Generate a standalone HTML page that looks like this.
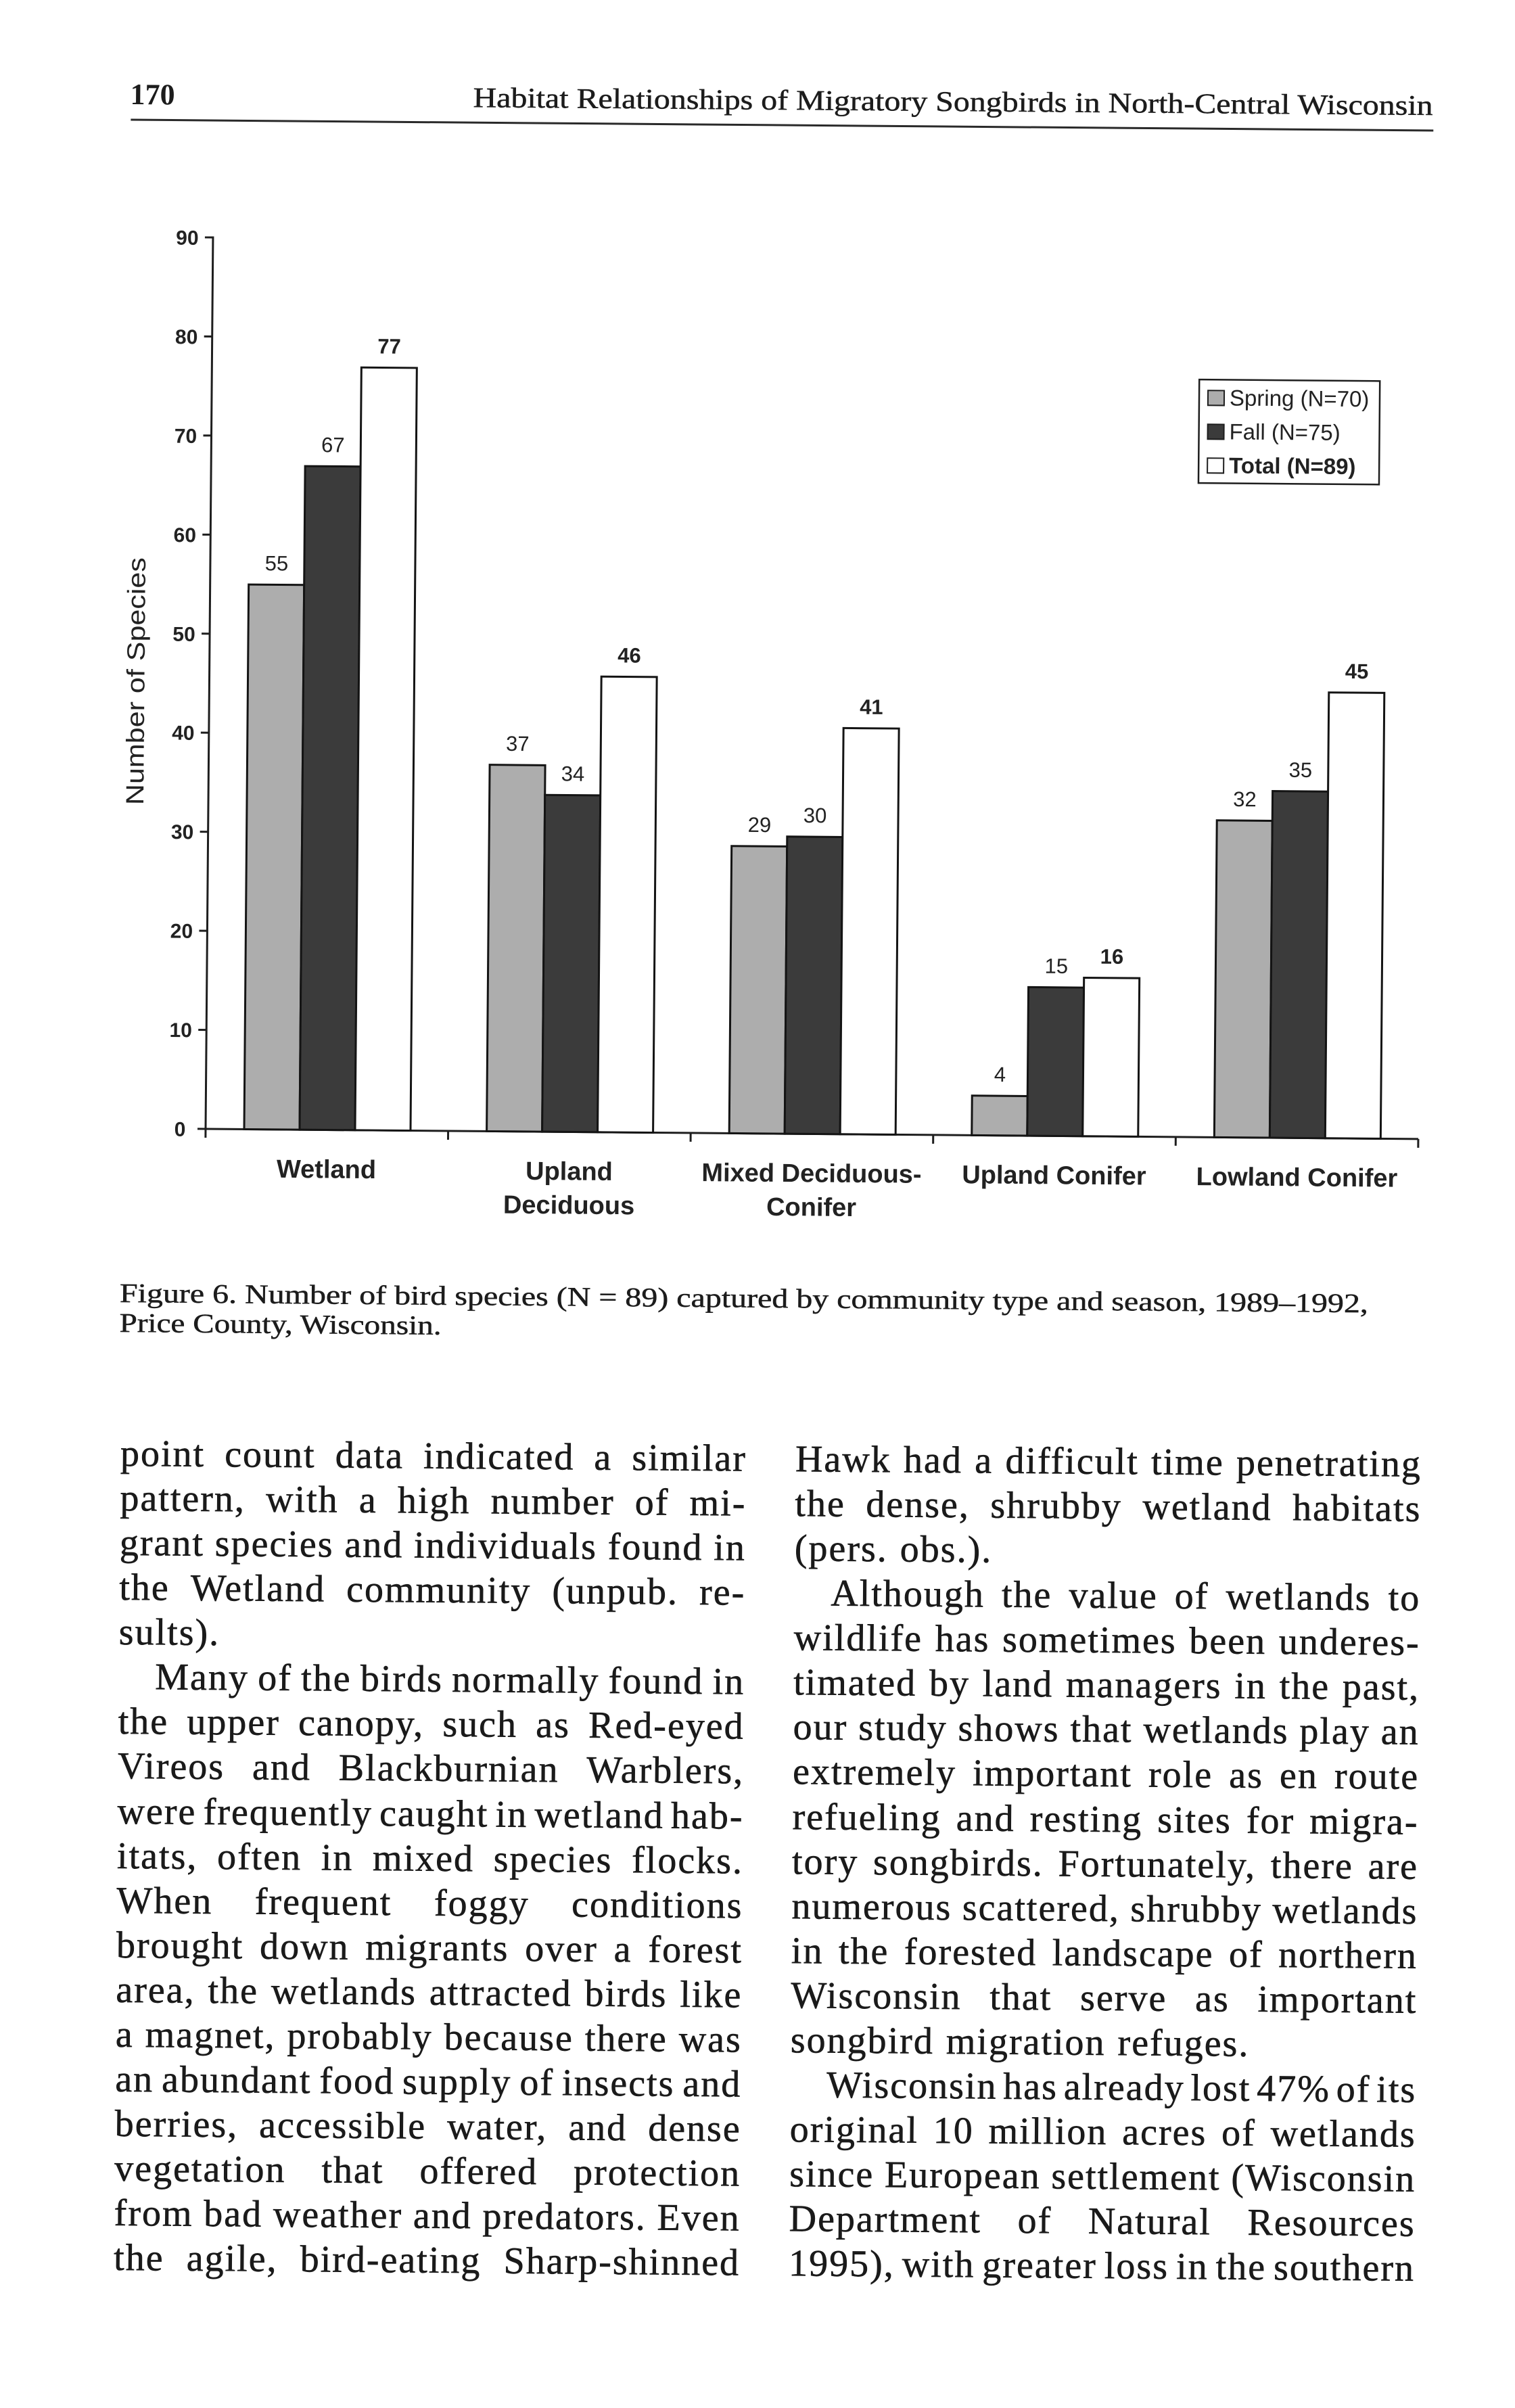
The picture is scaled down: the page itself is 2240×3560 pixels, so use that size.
<!DOCTYPE html>
<html>
<head>
<meta charset="utf-8">
<style>
  html,body{margin:0;padding:0;background:#fff;}
  #pg{position:relative;width:2240px;height:3560px;overflow:hidden;background:#fff;}
  #rot{position:absolute;left:0;top:0;width:2240px;height:3560px;transform:rotate(0.475deg);transform-origin:305px 1669px;}
  svg{position:absolute;left:0;top:0;}
  .ln{position:absolute;height:56px;line-height:56px;display:flex;justify-content:space-between;align-items:baseline;
      font-family:"Liberation Serif",serif;font-size:56px;letter-spacing:2px;color:#1a1a1a;white-space:nowrap;
      -webkit-text-stroke:0.6px #1a1a1a;}
  .ln.p{display:block;word-spacing:2px;}
  .L{left:182px;width:926px;}
  .Li{left:236px;width:872px;}
  .R{left:1180px;width:926px;}
  .Ri{left:1234px;width:872px;}
  .serif{stroke:#1c1c1c;stroke-width:0.5px;}
</style>
</head>
<body>
<div id="pg">
<div id="rot">
<svg width="2240" height="3560" viewBox="0 0 2240 3560" xmlns="http://www.w3.org/2000/svg">
  <!-- Header -->
  <text x="180" y="155" font-family="Liberation Serif, serif" font-weight="bold" font-size="44" fill="#1c1c1c">170</text>
  <text x="687" y="155" class="serif" font-family="Liberation Serif, serif" font-size="42" fill="#1c1c1c" textLength="1419" lengthAdjust="spacingAndGlyphs">Habitat Relationships of Migratory Songbirds in North-Central Wisconsin</text>
  <line x1="181" y1="178" x2="2107" y2="178" stroke="#2a2a2a" stroke-width="3"/>

  <!-- Y axis -->
  <g stroke="#1e1e1e" stroke-width="3" fill="none">
    <line x1="304" y1="349.5" x2="304" y2="1670.5"/>
    <line x1="292" y1="351" x2="304" y2="351"/>
    <line x1="292" y1="497.5" x2="304" y2="497.5"/>
    <line x1="292" y1="643.9" x2="304" y2="643.9"/>
    <line x1="292" y1="790.4" x2="304" y2="790.4"/>
    <line x1="292" y1="936.8" x2="304" y2="936.8"/>
    <line x1="292" y1="1083.2" x2="304" y2="1083.2"/>
    <line x1="292" y1="1229.7" x2="304" y2="1229.7"/>
    <line x1="292" y1="1376.1" x2="304" y2="1376.1"/>
    <line x1="292" y1="1522.6" x2="304" y2="1522.6"/>
    <line x1="292" y1="1669" x2="2097" y2="1669"/>
    <!-- x ticks -->
    <line x1="304" y1="1669" x2="304" y2="1682"/>
    <line x1="662.6" y1="1669" x2="662.6" y2="1682"/>
    <line x1="1021.2" y1="1669" x2="1021.2" y2="1682"/>
    <line x1="1379.8" y1="1669" x2="1379.8" y2="1682"/>
    <line x1="1738.4" y1="1669" x2="1738.4" y2="1682"/>
    <line x1="2097" y1="1669" x2="2097" y2="1682"/>
  </g>
  <g font-family="Liberation Sans, Arial, sans-serif" font-weight="bold" font-size="30" fill="#222" text-anchor="middle">
    <text x="266" y="362">90</text>
    <text x="266" y="508.5">80</text>
    <text x="266" y="655">70</text>
    <text x="266" y="801.5">60</text>
    <text x="266" y="948">50</text>
    <text x="266" y="1094">40</text>
    <text x="266" y="1240.5">30</text>
    <text x="266" y="1387">20</text>
    <text x="266" y="1533.5">10</text>
    <text x="266" y="1680">0</text>
  </g>
  <text transform="translate(208,1008) rotate(-90)" x="0" y="0" text-anchor="middle" font-family="Liberation Sans, Arial, sans-serif" font-size="37" fill="#222" textLength="366" lengthAdjust="spacingAndGlyphs">Number of Species</text>

  <!-- Bars -->
  <g stroke="#141414" stroke-width="3">
    <!-- Wetland -->
    <rect x="361" y="863.6" width="82" height="805.4" fill="#adadad"/>
    <rect x="443" y="687.9" width="82" height="981.1" fill="#3b3b3b"/>
    <rect x="525" y="541.4" width="82" height="1127.6" fill="#ffffff"/>
    <!-- Upland Deciduous -->
    <rect x="719.6" y="1127.2" width="82" height="541.8" fill="#adadad"/>
    <rect x="801.6" y="1171.1" width="82" height="497.9" fill="#3b3b3b"/>
    <rect x="883.6" y="995.4" width="82" height="673.6" fill="#ffffff"/>
    <!-- Mixed -->
    <rect x="1078.2" y="1244.3" width="82" height="424.7" fill="#adadad"/>
    <rect x="1160.2" y="1229.7" width="82" height="439.3" fill="#3b3b3b"/>
    <rect x="1242.2" y="1068.6" width="82" height="600.4" fill="#ffffff"/>
    <!-- Upland Conifer -->
    <rect x="1436.8" y="1610.4" width="82" height="58.6" fill="#adadad"/>
    <rect x="1518.8" y="1449.3" width="82" height="219.7" fill="#3b3b3b"/>
    <rect x="1600.8" y="1434.7" width="82" height="234.3" fill="#ffffff"/>
    <!-- Lowland Conifer -->
    <rect x="1795.4" y="1200.4" width="82" height="468.6" fill="#adadad"/>
    <rect x="1877.4" y="1156.5" width="82" height="512.5" fill="#3b3b3b"/>
    <rect x="1959.4" y="1010" width="82" height="659" fill="#ffffff"/>
  </g>

  <!-- Value labels -->
  <g font-family="Liberation Sans, Arial, sans-serif" font-size="31" fill="#222" text-anchor="middle">
    <text x="402" y="842.6">55</text>
    <text x="484" y="666.9">67</text>
    <text x="566" y="520.4" font-weight="bold">77</text>
    <text x="760.6" y="1106.2">37</text>
    <text x="842.6" y="1150.1">34</text>
    <text x="924.6" y="974.4" font-weight="bold">46</text>
    <text x="1119.2" y="1223.3">29</text>
    <text x="1201.2" y="1208.7">30</text>
    <text x="1283.2" y="1047.6" font-weight="bold">41</text>
    <text x="1477.8" y="1589.4">4</text>
    <text x="1559.8" y="1428.3">15</text>
    <text x="1641.8" y="1413.7" font-weight="bold">16</text>
    <text x="1836.4" y="1179.4">32</text>
    <text x="1918.4" y="1135.5">35</text>
    <text x="2000.4" y="989" font-weight="bold">45</text>
  </g>

  <!-- Category labels -->
  <g font-family="Liberation Sans, Arial, sans-serif" font-weight="bold" font-size="38" fill="#222" text-anchor="middle">
    <text x="483" y="1740">Wetland</text>
    <text x="842" y="1740">Upland</text>
    <text x="842" y="1790">Deciduous</text>
    <text x="1200.5" y="1740">Mixed Deciduous-</text>
    <text x="1200.5" y="1790">Conifer</text>
    <text x="1559" y="1740">Upland Conifer</text>
    <text x="1918" y="1740">Lowland Conifer</text>
  </g>

  <!-- Legend -->
  <rect x="1764" y="549" width="267" height="153" fill="#fff" stroke="#1e1e1e" stroke-width="2.5"/>
  <rect x="1777" y="565" width="24" height="22" fill="#adadad" stroke="#1e1e1e" stroke-width="2"/>
  <rect x="1777" y="615" width="24" height="22" fill="#3b3b3b" stroke="#1e1e1e" stroke-width="2"/>
  <rect x="1777" y="665" width="24" height="22" fill="#fff" stroke="#1e1e1e" stroke-width="2"/>
  <g font-family="Liberation Sans, Arial, sans-serif" font-size="33" fill="#222">
    <text x="1809" y="587">Spring (N=70)</text>
    <text x="1809" y="637">Fall (N=75)</text>
    <text x="1809" y="687" font-weight="bold">Total (N=89)</text>
  </g>

  <!-- Caption -->
  <g font-family="Liberation Serif, serif" font-size="40" fill="#1c1c1c" class="serif">
    <text x="179" y="1926" textLength="1846" lengthAdjust="spacingAndGlyphs">Figure 6. Number of bird species (N = 89) captured by community type and season, 1989–1992,</text>
    <text x="179" y="1970" textLength="476" lengthAdjust="spacingAndGlyphs">Price County, Wisconsin.</text>
  </g>
</svg>

<!-- Left column -->
<div class="ln L" style="top:2122px"><span>point</span><span>count</span><span>data</span><span>indicated</span><span>a</span><span>similar</span></div>
<div class="ln L" style="top:2188.1px"><span>pattern,</span><span>with</span><span>a</span><span>high</span><span>number</span><span>of</span><span>mi-</span></div>
<div class="ln L" style="top:2254.1px"><span>grant</span><span>species</span><span>and</span><span>individuals</span><span>found</span><span>in</span></div>
<div class="ln L" style="top:2320.2px"><span>the</span><span>Wetland</span><span>community</span><span>(unpub.</span><span>re-</span></div>
<div class="ln p L" style="top:2386.2px">sults).</div>
<div class="ln Li" style="top:2452.3px"><span>Many</span><span>of</span><span>the</span><span>birds</span><span>normally</span><span>found</span><span>in</span></div>
<div class="ln L" style="top:2518.4px"><span>the</span><span>upper</span><span>canopy,</span><span>such</span><span>as</span><span>Red-eyed</span></div>
<div class="ln L" style="top:2584.4px"><span>Vireos</span><span>and</span><span>Blackburnian</span><span>Warblers,</span></div>
<div class="ln L" style="top:2650.5px"><span>were</span><span>frequently</span><span>caught</span><span>in</span><span>wetland</span><span>hab-</span></div>
<div class="ln L" style="top:2716.5px"><span>itats,</span><span>often</span><span>in</span><span>mixed</span><span>species</span><span>flocks.</span></div>
<div class="ln L" style="top:2782.6px"><span>When</span><span>frequent</span><span>foggy</span><span>conditions</span></div>
<div class="ln L" style="top:2848.7px"><span>brought</span><span>down</span><span>migrants</span><span>over</span><span>a</span><span>forest</span></div>
<div class="ln L" style="top:2914.7px"><span>area,</span><span>the</span><span>wetlands</span><span>attracted</span><span>birds</span><span>like</span></div>
<div class="ln L" style="top:2980.8px"><span>a</span><span>magnet,</span><span>probably</span><span>because</span><span>there</span><span>was</span></div>
<div class="ln L" style="top:3046.8px"><span>an</span><span>abundant</span><span>food</span><span>supply</span><span>of</span><span>insects</span><span>and</span></div>
<div class="ln L" style="top:3112.9px"><span>berries,</span><span>accessible</span><span>water,</span><span>and</span><span>dense</span></div>
<div class="ln L" style="top:3179px"><span>vegetation</span><span>that</span><span>offered</span><span>protection</span></div>
<div class="ln L" style="top:3245px"><span>from</span><span>bad</span><span>weather</span><span>and</span><span>predators.</span><span>Even</span></div>
<div class="ln L" style="top:3311.1px"><span>the</span><span>agile,</span><span>bird-eating</span><span>Sharp-shinned</span></div>

<!-- Right column -->
<div class="ln R" style="top:2122px"><span>Hawk</span><span>had</span><span>a</span><span>difficult</span><span>time</span><span>penetrating</span></div>
<div class="ln R" style="top:2188.1px"><span>the</span><span>dense,</span><span>shrubby</span><span>wetland</span><span>habitats</span></div>
<div class="ln p R" style="top:2254.1px">(pers. obs.).</div>
<div class="ln Ri" style="top:2320.2px"><span>Although</span><span>the</span><span>value</span><span>of</span><span>wetlands</span><span>to</span></div>
<div class="ln R" style="top:2386.2px"><span>wildlife</span><span>has</span><span>sometimes</span><span>been</span><span>underes-</span></div>
<div class="ln R" style="top:2452.3px"><span>timated</span><span>by</span><span>land</span><span>managers</span><span>in</span><span>the</span><span>past,</span></div>
<div class="ln R" style="top:2518.4px"><span>our</span><span>study</span><span>shows</span><span>that</span><span>wetlands</span><span>play</span><span>an</span></div>
<div class="ln R" style="top:2584.4px"><span>extremely</span><span>important</span><span>role</span><span>as</span><span>en</span><span>route</span></div>
<div class="ln R" style="top:2650.5px"><span>refueling</span><span>and</span><span>resting</span><span>sites</span><span>for</span><span>migra-</span></div>
<div class="ln R" style="top:2716.5px"><span>tory</span><span>songbirds.</span><span>Fortunately,</span><span>there</span><span>are</span></div>
<div class="ln R" style="top:2782.6px"><span>numerous</span><span>scattered,</span><span>shrubby</span><span>wetlands</span></div>
<div class="ln R" style="top:2848.7px"><span>in</span><span>the</span><span>forested</span><span>landscape</span><span>of</span><span>northern</span></div>
<div class="ln R" style="top:2914.7px"><span>Wisconsin</span><span>that</span><span>serve</span><span>as</span><span>important</span></div>
<div class="ln p R" style="top:2980.8px">songbird migration refuges.</div>
<div class="ln Ri" style="top:3046.8px"><span>Wisconsin</span><span>has</span><span>already</span><span>lost</span><span>47%</span><span>of</span><span>its</span></div>
<div class="ln R" style="top:3112.9px"><span>original</span><span>10</span><span>million</span><span>acres</span><span>of</span><span>wetlands</span></div>
<div class="ln R" style="top:3179px"><span>since</span><span>European</span><span>settlement</span><span>(Wisconsin</span></div>
<div class="ln R" style="top:3245px"><span>Department</span><span>of</span><span>Natural</span><span>Resources</span></div>
<div class="ln R" style="top:3311.1px"><span>1995),</span><span>with</span><span>greater</span><span>loss</span><span>in</span><span>the</span><span>southern</span></div>

</div>
</div>
</body>
</html>
